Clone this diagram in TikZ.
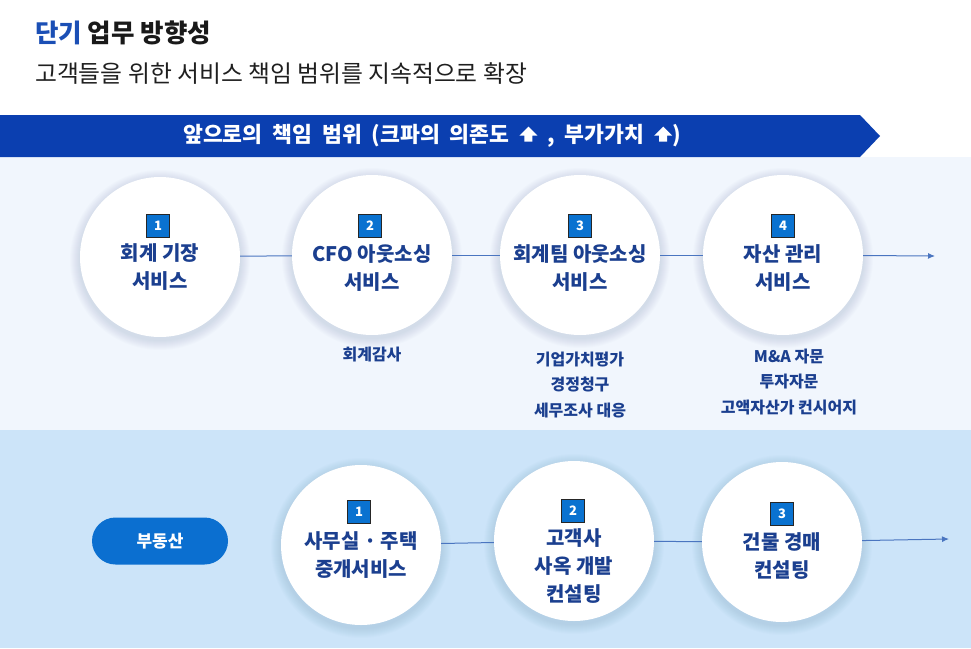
\documentclass[tikz,border=0pt]{standalone}
\usepackage{fontspec}
\setmainfont{Noto Sans CJK KR}
\newfontfamily\bannerfont[WordSpace=2.0]{Noto Sans CJK KR}
\usetikzlibrary{arrows.meta}
\definecolor{navy}{HTML}{1B3F8F}
\definecolor{titleblue}{HTML}{1B4FB5}
\definecolor{bannerblue}{HTML}{0B3FB0}
\definecolor{lightbg}{HTML}{F1F6FD}
\definecolor{lowbg}{HTML}{CCE4F9}
\definecolor{badgeblue}{HTML}{0A72D0}
\definecolor{pillblue}{HTML}{0B6FD0}
\definecolor{linecol}{HTML}{4A75C0}
\definecolor{shadowcol}{HTML}{5A7FB5}
\newcommand\uparrowglyph{\tikz[baseline=-1pt,x=1pt,y=1pt]\fill[white] (-9,6)--(0,15)--(9,6)--(4,6)--(4,0)--(-4,0)--(-4,6)--cycle;}
\newcommand\softshadow[1]{\foreach \rr in {81,82,...,90}{\fill[shadowcol, opacity=0.018] ([yshift=-3pt]#1) circle[radius=\rr];}}
\tikzset{
  svc/.style={circle, fill=white, minimum size=160pt, inner sep=0pt},
  badge/.style={fill=badgeblue, draw=black!85, line width=1.1pt, minimum width=23pt, minimum height=23pt, inner sep=0pt,
    text=white, font=\fontsize{13}{13}\selectfont\bfseries},
  svctext/.style={text=navy, align=center, font=\fontsize{20}{28}\selectfont\bfseries, inner sep=0pt},
  subtext/.style={text=navy, align=center, font=\fontsize{16}{25.5}\selectfont\bfseries, inner sep=0pt},
  conn/.style={draw=linecol, line width=1pt},
  pill/.style={fill=pillblue, rounded corners=23.5pt, minimum width=136pt, minimum height=47pt, inner sep=0pt,
    text=white, font=\fontsize{17}{17}\selectfont\bfseries}
}
\begin{document}
\begin{tikzpicture}[x=1pt,y=-1pt]
\useasboundingbox (0,0) rectangle (971,648);
\fill[white] (0,0) rectangle (971,157);
\fill[lightbg] (0,157) rectangle (971,430);
\fill[lowbg] (0,430) rectangle (971,648);
% title
\node[anchor=west, inner sep=0pt, font=\fontsize{25.5}{25.5}\selectfont\bfseries] (title) at (35,33) {\textcolor{titleblue}{단기} \textcolor{black!90}{업무 방향성}};
\node[anchor=west, inner sep=0pt, font=\fontsize{23.8}{23.8}\selectfont, text=black!88] (subtitle) at (35,74) {고객들을 위한 서비스 책임 범위를 지속적으로 확장};
% banner
\fill[bannerblue] (0,115) -- (860,115) -- (880,136) -- (860,157) -- (0,157) -- cycle;
\node[text=white, inner sep=0pt, font=\bannerfont\fontsize{21.6}{21.6}\selectfont\bfseries] (banner) at (432,136) {앞으로의 책임 범위 (크파의 의존도 \uparrowglyph\ , 부가가치 \uparrowglyph)};
% top row
\coordinate (pt1) at (160,257);
\coordinate (pt2) at (372,255);
\coordinate (pt3) at (580,255);
\coordinate (pt4) at (783,255);
\softshadow{pt1}\softshadow{pt2}\softshadow{pt3}\softshadow{pt4}
\node[svc] (t1) at (pt1) {};
\node[svc] (t2) at (pt2) {};
\node[svc] (t3) at (pt3) {};
\node[svc] (t4) at (pt4) {};
\coordinate (te) at (935,256);
\draw[conn] (t1) -- (t2);
\draw[conn] (t2) -- (t3);
\draw[conn] (t3) -- (t4);
\draw[conn, -{Latex[length=7pt,width=6pt]}] (t4) -- (te);
\node[badge] (b1) at (158,226) {1};
\node[badge] (b2) at (370,226) {2};
\node[badge] (b3) at (580,226) {3};
\node[badge] (b4) at (783,226) {4};
\node[svctext] (l1) at (160,267) {회계 기장\\서비스};
\node[svctext] (l2) at (372,268) {CFO 아웃소싱\\서비스};
\node[svctext] (l3) at (580,268) {회계팀 아웃소싱\\서비스};
\node[svctext] (l4) at (783,268) {자산 관리\\서비스};
\node[subtext] (s2) at (372,355) {회계감사};
\node[subtext] (s3) at (580,385) {기업가치평가\\경정청구\\세무조사 대응};
\node[subtext] (s4) at (789,382) {M\&A 자문\\투자자문\\고액자산가 컨시어지};
% bottom row
\node[pill] (re) at (160,541) {부동산};
\coordinate (pu1) at (361,545);
\coordinate (pu2) at (574,541);
\coordinate (pu3) at (782,542);
\softshadow{pu1}\softshadow{pu2}\softshadow{pu3}
\node[svc] (u1) at (pu1) {};
\node[svc] (u2) at (pu2) {};
\node[svc] (u3) at (pu3) {};
\coordinate (ue) at (949,539);
\draw[conn] (u1) -- (u2);
\draw[conn] (u2) -- (u3);
\draw[conn, -{Latex[length=7pt,width=6pt]}] (u3) -- (ue);
\node[badge] (c1) at (359,512) {1};
\node[badge] (c2) at (573,511) {2};
\node[badge] (c3) at (782,514) {3};
\node[svctext] (m1) at (361,555) {사무실 · 주택\\중개서비스};
\node[svctext] (m2) at (574,566) {고객사\\사옥 개발\\컨설팅};
\node[svctext] (m3) at (782,556) {건물 경매\\컨설팅};
\end{tikzpicture}
\end{document}
